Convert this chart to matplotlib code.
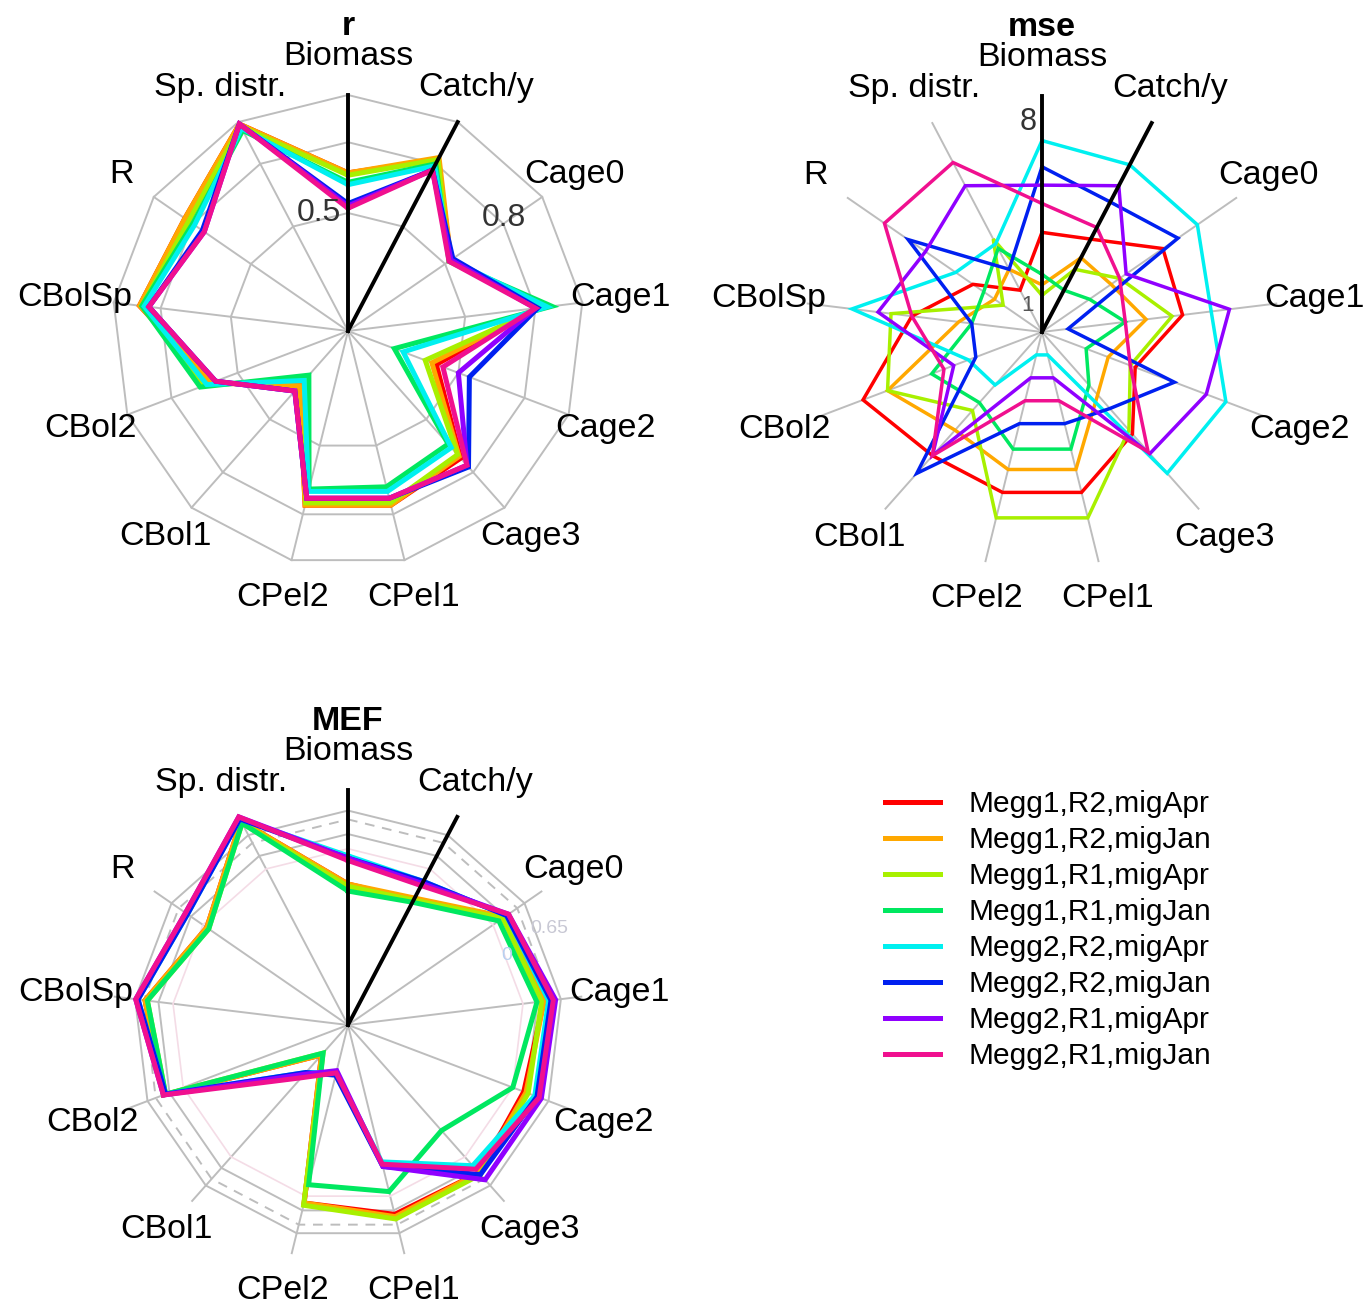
import numpy as np
import matplotlib.pyplot as plt

plt.rcParams['font.family'] = ['Liberation Sans', 'DejaVu Sans']

# axes of the radar (clockwise from the top)
spokes = ['Biomass', 'Catch/y', 'Cage0', 'Cage1', 'Cage2', 'Cage3', 'CPel1',
          'CPel2', 'CBol1', 'CBol2', 'CBolSp', 'R', 'Sp. distr.']

runs = ['Megg1,R2,migApr', 'Megg1,R2,migJan', 'Megg1,R1,migApr', 'Megg1,R1,migJan',
        'Megg2,R2,migApr', 'Megg2,R2,migJan', 'Megg2,R1,migApr', 'Megg2,R1,migJan']
colors = ['#FF0000', '#FFA800', '#A8F000', '#00E860',
          '#00F0F0', '#0020F0', '#9000FF', '#F0108F']

# correlation r
r_vals = [
    [0.67, 0.82, 0.53, 0.81, 0.40, 0.72, 0.76, 0.76, 0.31, 0.62, 0.89, 0.84, 0.99],
    [0.67, 0.83, 0.53, 0.82, 0.38, 0.71, 0.76, 0.76, 0.31, 0.62, 0.89, 0.84, 0.99],
    [0.66, 0.82, 0.52, 0.83, 0.35, 0.70, 0.75, 0.75, 0.27, 0.65, 0.88, 0.82, 0.98],
    [0.63, 0.80, 0.52, 0.87, 0.21, 0.64, 0.68, 0.69, 0.25, 0.67, 0.88, 0.80, 0.96],
    [0.62, 0.79, 0.53, 0.85, 0.25, 0.66, 0.70, 0.70, 0.28, 0.64, 0.87, 0.79, 0.97],
    [0.54, 0.77, 0.54, 0.81, 0.55, 0.77, 0.73, 0.73, 0.34, 0.60, 0.85, 0.75, 0.99],
    [0.53, 0.77, 0.53, 0.80, 0.50, 0.76, 0.73, 0.73, 0.34, 0.60, 0.85, 0.74, 0.99],
    [0.52, 0.77, 0.52, 0.80, 0.43, 0.76, 0.73, 0.73, 0.34, 0.60, 0.85, 0.74, 0.99],
]

# mean squared error
mse_vals = [
    [3.8, 4.0, 5.6, 5.4, 3.8, 5.2, 6.3, 6.3, 6.3, 7.3, 5.0, 3.2, 1.8],
    [1.8, 3.2, 3.2, 4.0, 2.7, 3.2, 5.4, 5.4, 5.0, 6.3, 3.2, 2.2, 2.7],
    [1.4, 2.7, 3.6, 5.0, 3.6, 5.0, 7.3, 7.3, 4.0, 6.3, 5.8, 1.8, 4.0],
    [2.2, 1.8, 2.2, 3.2, 1.8, 2.7, 4.6, 4.6, 3.6, 4.5, 2.7, 2.7, 3.6],
    [7.3, 7.2, 7.2, 6.5, 7.5, 7.2, 0.9, 0.9, 2.7, 3.0, 7.3, 4.0, 3.8],
    [6.3, 5.6, 6.3, 1.0, 5.4, 3.9, 3.6, 3.6, 7.2, 2.7, 2.7, 6.2, 2.7],
    [5.6, 6.3, 3.9, 7.2, 6.7, 6.2, 1.8, 1.8, 6.3, 3.6, 6.3, 5.4, 6.3],
    [4.9, 4.5, 3.6, 3.2, 3.6, 6.1, 2.7, 2.7, 6.3, 4.0, 5.0, 7.3, 7.3],
]

# modelling efficiency
mef_vals = [
    [-0.60, -0.60, 0.24, 0.36, 0.20, 0.36, 0.32, 0.12, -2.32, 0.36, 0.48, -0.08, 0.92],
    [-0.60, -0.56, 0.24, 0.36, 0.24, 0.36, 0.36, 0.12, -2.32, 0.36, 0.48, -0.08, 0.92],
    [-0.64, -0.60, 0.20, 0.32, 0.28, 0.40, 0.40, 0.16, -2.36, 0.32, 0.44, -0.12, 0.88],
    [-0.72, -0.64, 0.12, 0.24, 0.00, -0.60, -0.08, -0.20, -2.36, 0.32, 0.44, -0.12, 0.88],
    [-0.12, -0.24, 0.28, 0.44, 0.40, 0.20, -0.60, -2.16, -1.92, 0.32, 0.60, 0.32, 0.96],
    [-0.16, -0.24, 0.28, 0.48, 0.44, 0.40, -0.52, -2.12, -1.92, 0.32, 0.60, 0.32, 0.96],
    [-0.16, -0.28, 0.32, 0.56, 0.52, 0.52, -0.52, -2.20, -1.88, 0.36, 0.64, 0.36, 1.00],
    [-0.20, -0.32, 0.32, 0.52, 0.48, 0.28, -0.56, -2.16, -1.80, 0.36, 0.64, 0.36, 1.00],
]

W, H = 1368, 1310
fig = plt.figure(figsize=(W / 100, H / 100), dpi=100)

theta = np.arange(len(spokes)) * 2 * np.pi / len(spokes)
th_closed = np.append(theta, theta[0])


def radar(cx, cy, rad, rmin, rmax, vals, lw, title):
    ax = fig.add_axes([(cx - rad) / W, (H - cy - rad) / H, 2 * rad / W, 2 * rad / H],
                      projection='polar')
    ax.set_theta_offset(np.pi / 2)
    ax.set_theta_direction(-1)
    ax.set_ylim(rmin, rmax)
    ax.axis('off')
    span = rmax - rmin
    # spokes
    for i, t in enumerate(theta):
        if i < 2:
            continue
        ax.plot([t, t], [rmin, rmax], color='#bdbdbd', lw=1.4, zorder=1, clip_on=False)
    # series
    for v, c in zip(vals, colors):
        ax.plot(th_closed, np.append(v, v[0]), color=c, lw=lw, zorder=3,
                solid_joinstyle='miter', clip_on=False)
    # black spokes on top
    for t in theta[:2]:
        ax.plot([t, t], [rmin, rmax], color='black', lw=2.8, zorder=5, clip_on=False)
    for t, name in zip(theta, spokes):
        ax.text(t, rmin + 1.165 * span, name, ha='center', va='center', fontsize=24.5)
    ax.text(0, rmin + 1.29 * span, title, ha='center', va='center', fontsize=24.5,
            fontweight='bold')
    return ax


# r
ax1 = radar(348, 331, 236, 0, 1, r_vals, 3.6, 'r')
for ring in [0.5, 0.8, 1.0]:
    ax1.plot(th_closed, [ring] * len(th_closed), color='#bdbdbd', lw=1.4, zorder=1,
             clip_on=False)
ax1.annotate('0.5', (0, 0.5), xytext=(-5, 0), textcoords='offset points',
             ha='right', va='center', fontsize=23, color='#333333')
ax1.annotate('0.8', (theta[2], 0.8), xytext=(0, 4), textcoords='offset points',
             ha='center', va='center', fontsize=23, color='#333333')

# mse
ax2 = radar(1042, 332, 236, 0, 9, mse_vals, 2.5, 'mse')
ax2.annotate('8', (0, 8), xytext=(-4, 0), textcoords='offset points',
             ha='right', va='center', fontsize=22, color='#333333')
ax2.annotate('1', (0, 1), xytext=(-6, 0), textcoords='offset points',
             ha='right', va='center', fontsize=16, color='#555555')

# MEF
ax3 = radar(348, 1025, 235, -3, 1, mef_vals, 3.6, 'MEF')
ax3.plot(th_closed, [0] * len(th_closed), color='#f4dce6', lw=1.2, zorder=1)
ax3.plot(th_closed, [0.25] * len(th_closed), color='#bdbdbd', lw=1.4, zorder=1)
ax3.plot(th_closed, [0.5] * len(th_closed), color='#bdbdbd', lw=1.4, ls=(0, (5, 4)), zorder=1)
ax3.plot(th_closed, [0.65] * len(th_closed), color='#bdbdbd', lw=1.4, zorder=1)
ax3.annotate('0.65', (theta[2], 0.65), xytext=(18, -18), textcoords='offset points',
             ha='center', va='center', fontsize=14, color='#c8c8d4')
ax3.annotate('0', (theta[2], 0), xytext=(10, -22), textcoords='offset points',
             ha='center', va='center', fontsize=14, color='#b8d0f0')

handles = ax3.get_lines()[11:19]
fig.legend(handles, runs, loc='upper left', bbox_to_anchor=(885 / W, 1 - 790 / H),
           frameon=False, fontsize=21.5, handlelength=1.85, handletextpad=0.95,
           labelspacing=0.27, borderpad=0, borderaxespad=0)

fig.savefig('out.png', dpi=100)
